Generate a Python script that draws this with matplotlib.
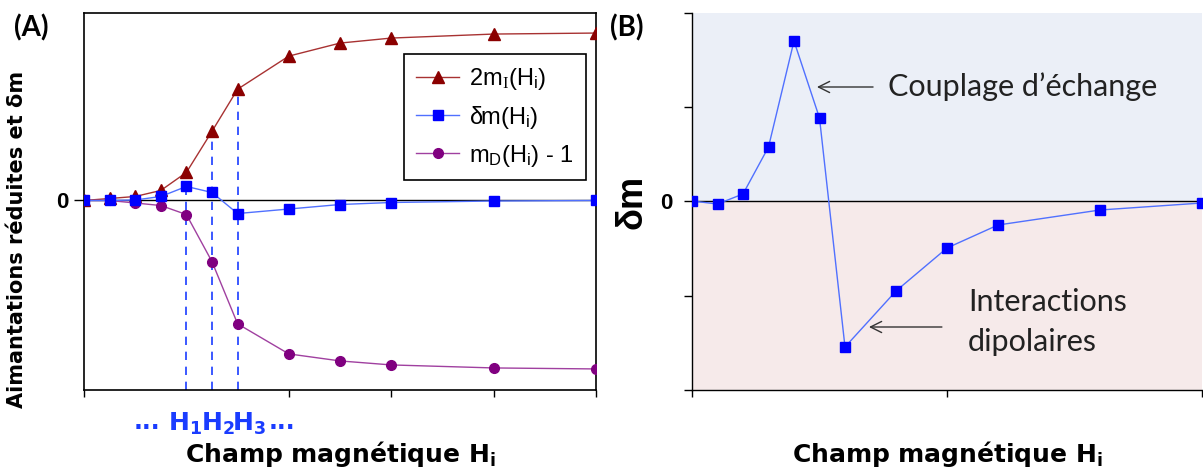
import matplotlib
matplotlib.use("Agg")
import matplotlib.pyplot as plt
from matplotlib.transforms import blended_transform_factory

plt.rcParams['mathtext.fontset'] = 'custom'
plt.rcParams['mathtext.rm'] = 'Liberation Sans'
plt.rcParams['mathtext.it'] = 'Liberation Sans:italic'
plt.rcParams['mathtext.bf'] = 'DejaVu Sans:bold'
plt.rcParams['mathtext.sf'] = 'Liberation Serif'

# ---- data ----
x = [0, 0.5, 1, 1.5, 2, 2.5, 3, 4, 5, 6, 8, 10]
m2I = [0, 2, 4, 10, 28, 69, 111, 144, 157, 162, 166, 167]
dmA = [0, 0, 0.5, 4, 14, 8, -13, -8.5, -4, -2, -0.5, 0]
mD1 = [0, 0, -2.5, -5, -14, -61, -123, -153, -160, -164, -167, -168]
dmB = [0, -3, 7, 54, 160, 83, -146, -90, -47, -24, -9, -2]

labels_legend = [r'2m$_\mathsf{I}$(H$_\mathrm{i}$)', r'δm(H$_\mathrm{i}$)', r'm$_\mathrm{D}$(H$_\mathrm{i}$) - 1']
h_idx = [4, 5, 6]           # indices of H1, H2, H3
h_series = ['dm', 'm2I', 'm2I']
h_labels = [r'$\mathbf{H_1}$', r'$\mathbf{H_2}$', r'$\mathbf{H_3}$']
xlabel = r'Champ magnétique $\mathbf{H_i}$'

fig = plt.figure(figsize=(12.03, 4.71), dpi=100)
axA = fig.add_axes([84/1203, 81/471, 512/1203, 377/471])
axB = fig.add_axes([692/1203, 81/471, 510/1203, 377/471])

# ---- Panel A ----
ylimA = (-189, 187)
axA.axhline(0, color='black', lw=1, zorder=1)
axA.plot(x, m2I, color='#a83232', lw=1, marker='^', ms=8, mfc='#8b0000', mec='#8b0000', label=labels_legend[0], zorder=3)
axA.plot(x, dmA, color='#5070ff', lw=1, marker='s', ms=7, mfc='#0000ff', mec='#0000ff', label=labels_legend[1], zorder=4)
axA.plot(x, mD1, color='#a040a0', lw=1, marker='o', ms=7, mfc='#800080', mec='#800080', label=labels_legend[2], zorder=3)
series = {'dm': dmA, 'm2I': m2I}
for i, s in zip(h_idx, h_series):
    axA.vlines(x[i], ylimA[0], series[s][i], colors='#1a3cff', linestyles=(0, (5, 4)), lw=1.2, zorder=2)
axA.set_xlim(0, 10)
axA.set_ylim(*ylimA)
axA.set_xticks([0, 4, 6, 8, 10])
axA.set_xticklabels([])
axA.set_yticks([0])
axA.set_yticklabels(['0'], fontsize=16, fontweight='bold', family='Liberation Sans')
axA.tick_params(axis='x', direction='out', length=5, width=1)
axA.tick_params(axis='y', direction='out', length=7, width=1, pad=4)
for sp in axA.spines.values():
    sp.set_linewidth(1.2)
axA.set_ylabel('Aimantations réduites et δm', fontsize=15, fontweight='bold', family='DejaVu Sans', labelpad=12)
axA.yaxis.set_label_coords(-0.112, 0.40)
axA.set_xlabel(xlabel, fontsize=18, fontweight='bold', family='DejaVu Sans', labelpad=27)
leg = axA.legend(loc='upper left', bbox_to_anchor=(0.625, 0.891), borderaxespad=0, fancybox=False,
                 edgecolor='black', framealpha=1, prop={'family': 'Liberation Sans', 'size': 17},
                 handlelength=1.85, handletextpad=0.4, labelspacing=0.5, borderpad=0.5)
leg.get_frame().set_linewidth(1.2)
trA = blended_transform_factory(axA.transData, axA.transAxes)
hx = [1.98, 2.62, 3.22]
for xx, lab in zip(hx, h_labels):
    axA.text(xx, -0.09, lab, transform=trA, ha='center', va='center', color='#1a3cff', fontsize=18)
axA.text(1.23, -0.085, '...', transform=trA, ha='center', va='center', color='#1a3cff', fontsize=17, fontweight='bold', family='DejaVu Sans')
axA.text(3.87, -0.085, '...', transform=trA, ha='center', va='center', color='#1a3cff', fontsize=17, fontweight='bold', family='DejaVu Sans')
fig.text(31/1203, 1 - 28/471, '(A)', ha='center', va='center', fontsize=20, fontweight='bold', family='Lato')

# ---- Panel B ----
ylimB = (-189, 188)
axB.axhspan(0, ylimB[1], color='#ebeff7', zorder=0)
axB.axhspan(ylimB[0], 0, color='#f6eaea', zorder=0)
axB.axhline(0, color='black', lw=1, zorder=1)
axB.plot(x, dmB, color='#5070ff', lw=1, marker='s', ms=7, mfc='#0000ff', mec='#0000ff', zorder=3)
axB.set_xlim(0, 10)
axB.set_ylim(*ylimB)
axB.set_xticks([0, 5, 10])
axB.set_xticklabels([])
axB.set_yticks([-189, -94.5, 0, 94, 188])
axB.set_yticklabels(['', '', '0', '', ''], fontsize=16, fontweight='bold', family='Liberation Sans')
axB.tick_params(axis='x', direction='out', length=5, width=1)
axB.tick_params(axis='y', direction='out', length=6, width=1, pad=8)
axB.spines['top'].set_visible(False)
axB.spines['right'].set_visible(False)
axB.spines['left'].set_linewidth(1)
axB.spines['bottom'].set_linewidth(1)
axB.set_ylabel('δm', fontsize=26, fontweight='bold', family='Liberation Sans', labelpad=8)
axB.set_xlabel(xlabel, fontsize=18, fontweight='bold', family='DejaVu Sans', labelpad=27)
arrow_kw = dict(arrowstyle='->', color='#333333', lw=1, mutation_scale=20, shrinkA=0, shrinkB=0)
axB.annotate('', xy=(2.45, 114), xytext=(3.55, 114), arrowprops=arrow_kw)
axB.text(3.84, 114, 'Couplage d’échange', fontsize=22, family='Lato', ha='left', va='center', color='#222222')
axB.annotate('', xy=(3.47, -126), xytext=(4.9, -126), arrowprops=arrow_kw)
axB.text(5.41, -101, 'Interactions', fontsize=22, family='Lato', ha='left', va='center', color='#222222')
axB.text(5.41, -141, 'dipolaires', fontsize=22, family='Lato', ha='left', va='center', color='#222222')
fig.text(627/1203, 1 - 28/471, '(B)', ha='center', va='center', fontsize=20, fontweight='bold', family='Lato')

fig.savefig('out.png', dpi=100)
